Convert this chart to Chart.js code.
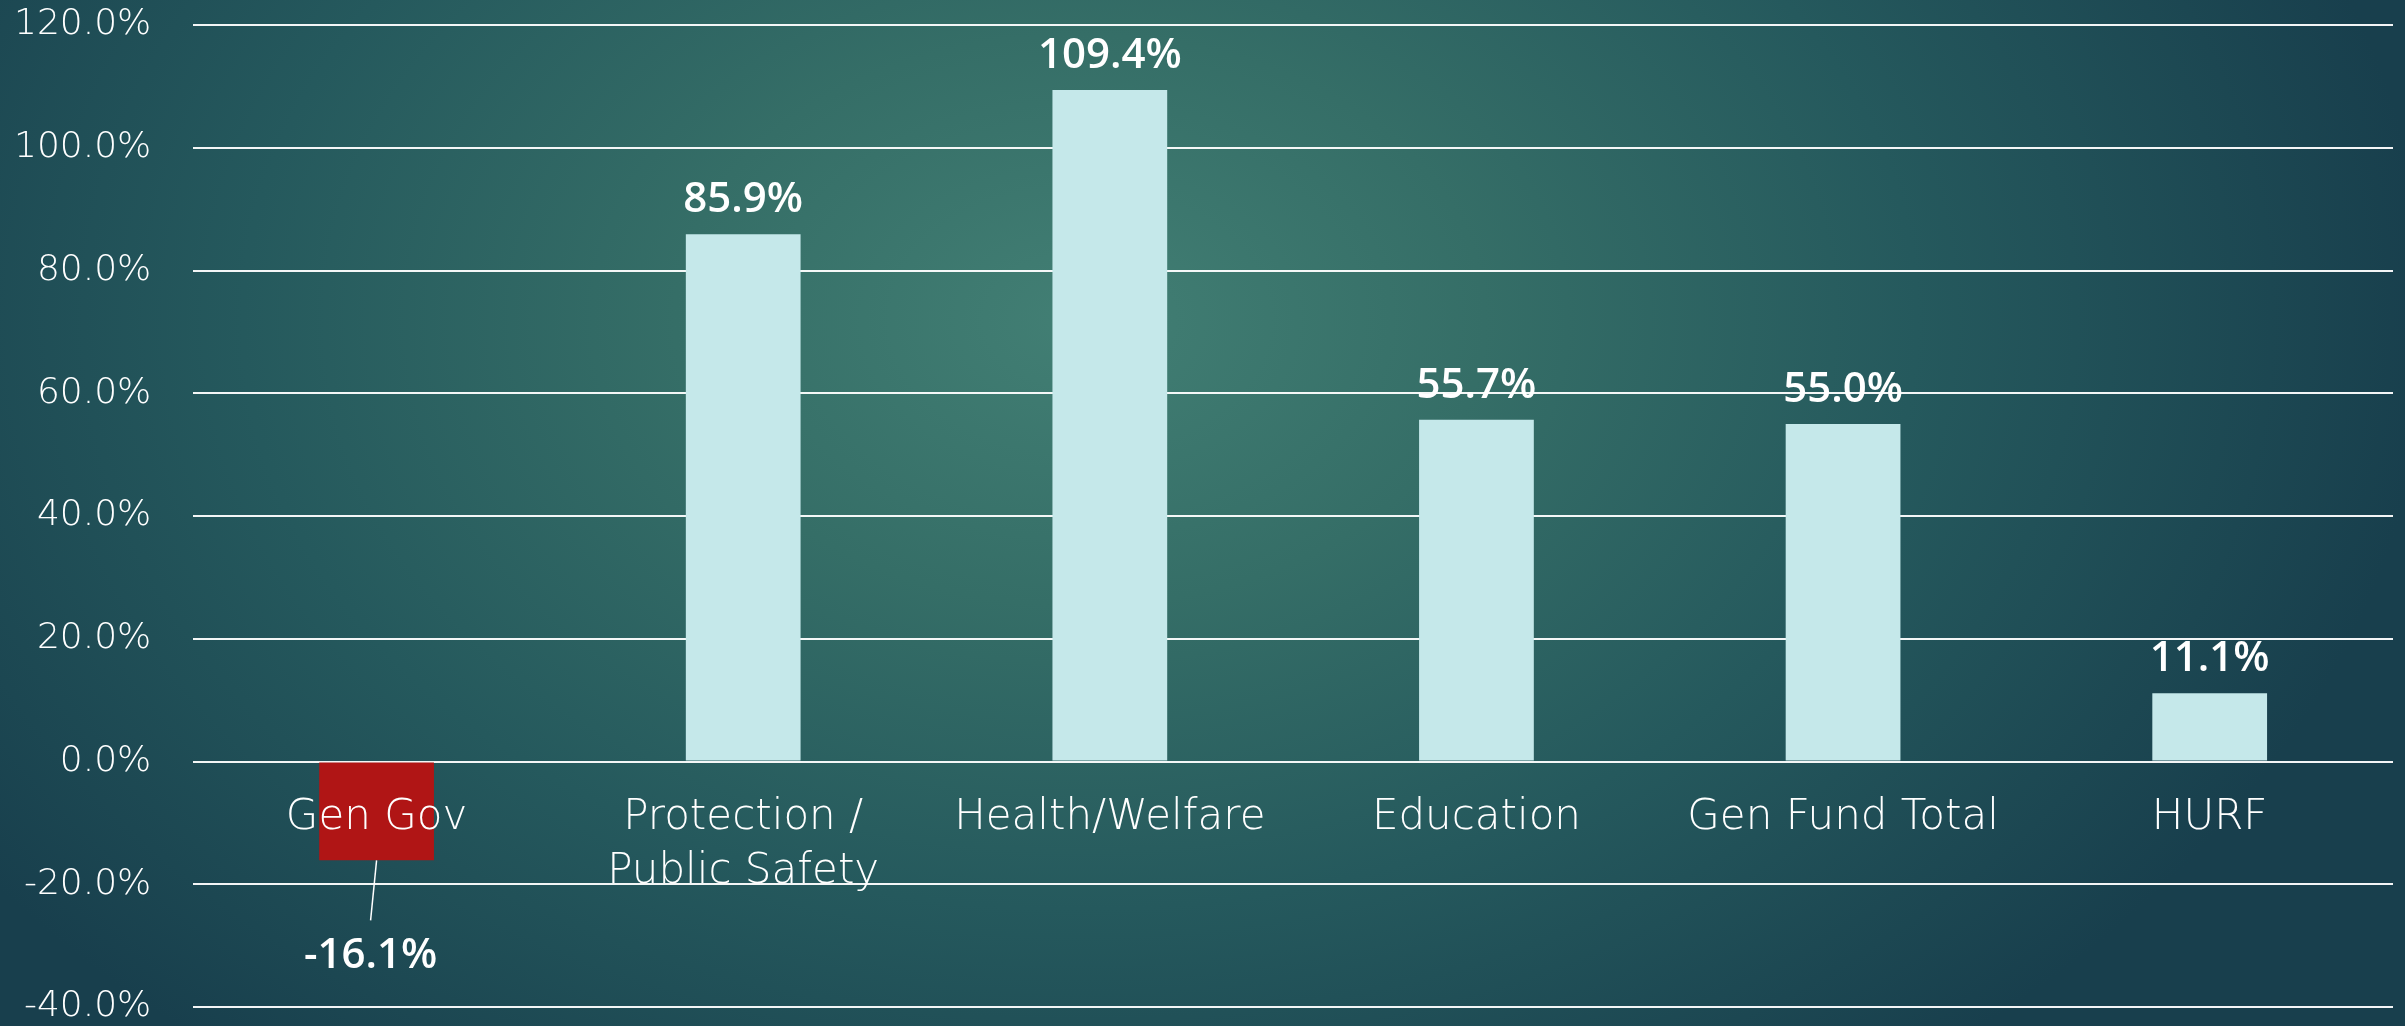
<!DOCTYPE html>
<html>
<head>
<meta charset="utf-8">
<script src="https://cdn.jsdelivr.net/npm/chart.js@4/dist/chart.umd.min.js"></script>
<style>
    html, body {
        margin: 0;
        padding: 0;
    }
    body {
        width: 2405px;
        height: 1026px;
        overflow: hidden;
        background: radial-gradient(ellipse 1350px 950px at 1080px 320px, #427f74 0%, #356e67 30%, #25595d 62%, #183f4d 100%);
    }
    #chart_container {
        position: relative;
        width: 2405px;
        height: 1026px;
    }
</style>
</head>
<body>
<div id="chart_container">
    <canvas id="chart_canvas"></canvas>
</div>
<script>
var categories = ["Gen Gov", ["Protection /", "Public Safety"], "Health/Welfare", "Education", "Gen Fund Total", "HURF"];
var values = [-16.1, 85.9, 109.4, 55.7, 55.0, 11.1];
var yTicks = [-40, -20, 0, 20, 40, 60, 80, 100, 120];

var posColor = "#c5e8ea";
var negColor = "#b01515";
var labelFont = "'DejaVu Sans', 'Open Sans', sans-serif";
var valueFont = "'Open Sans', 'DejaVu Sans', sans-serif";

// value labels above bars, below with a leader line for negatives
var valueLabels = {
    id: "valueLabels",
    afterDatasetsDraw: function (chart) {
        var ctx = chart.ctx;
        var meta = chart.getDatasetMeta(0);
        ctx.save();
        ctx.fillStyle = "#ffffff";
        ctx.font = "600 42px " + valueFont;
        ctx.textAlign = "center";
        ctx.textBaseline = "alphabetic";
        meta.data.forEach(function (bar, i) {
            var v = values[i];
            var txt = v.toFixed(1) + "%";
            if (v >= 0) {
                ctx.fillText(txt, bar.x, bar.y - 22);
            } else {
                ctx.strokeStyle = "#ffffff";
                ctx.lineWidth = 1.5;
                ctx.beginPath();
                ctx.moveTo(bar.x, bar.y);
                ctx.lineTo(bar.x - 6, bar.y + 60);
                ctx.stroke();
                ctx.fillText(txt, bar.x - 6, bar.y + 108);
            }
        });
        ctx.restore();
    }
};

var ctx = document.getElementById("chart_canvas").getContext("2d");

var chart = new Chart(ctx, {
    type: "bar",
    data: {
        labels: categories,
        datasets: [
            {
                data: values,
                backgroundColor: values.map(function (v) { return v < 0 ? negColor : posColor; }),
                borderWidth: 0,
                barPercentage: 0.313,
                categoryPercentage: 1.0
            }
        ]
    },
    options: {
        responsive: true,
        maintainAspectRatio: false,
        animation: false,
        layout: {
            padding: { left: -28, right: 12, top: 25, bottom: 19 }
        },
        plugins: {
            legend: { display: false },
            tooltip: { enabled: false }
        },
        scales: {
            x: {
                position: { y: 0 },
                afterFit: function (scale) {
                    scale.height = 0;
                    scale.paddingLeft = 0;
                    scale.paddingRight = 0;
                },
                grid: { display: false, drawTicks: false },
                border: { display: false },
                ticks: {
                    z: 1,   // category names sit on top of the red bar
                    color: "#ffffff",
                    padding: 29,
                    maxRotation: 0,
                    autoSkip: false,
                    font: { family: labelFont, size: 42, weight: 200, lineHeight: 1.3 }
                }
            },
            y: {
                min: -40,
                max: 120,
                afterBuildTicks: function (scale) {
                    scale.ticks = yTicks.map(function (v) { return { value: v }; });
                },
                afterFit: function (scale) {
                    scale.paddingTop = 0;
                    scale.paddingBottom = 0;
                },
                grid: {
                    color: "rgba(255,255,255,0.95)",
                    lineWidth: 2,
                    drawTicks: false
                },
                border: { display: false },
                ticks: {
                    color: "#ffffff",
                    padding: 42,
                    font: { family: labelFont, size: 36, weight: 200 },
                    callback: function (v) { return Number(v).toFixed(1) + "%"; }
                }
            }
        }
    },
    plugins: [valueLabels]
});
</script>
</body>
</html>
